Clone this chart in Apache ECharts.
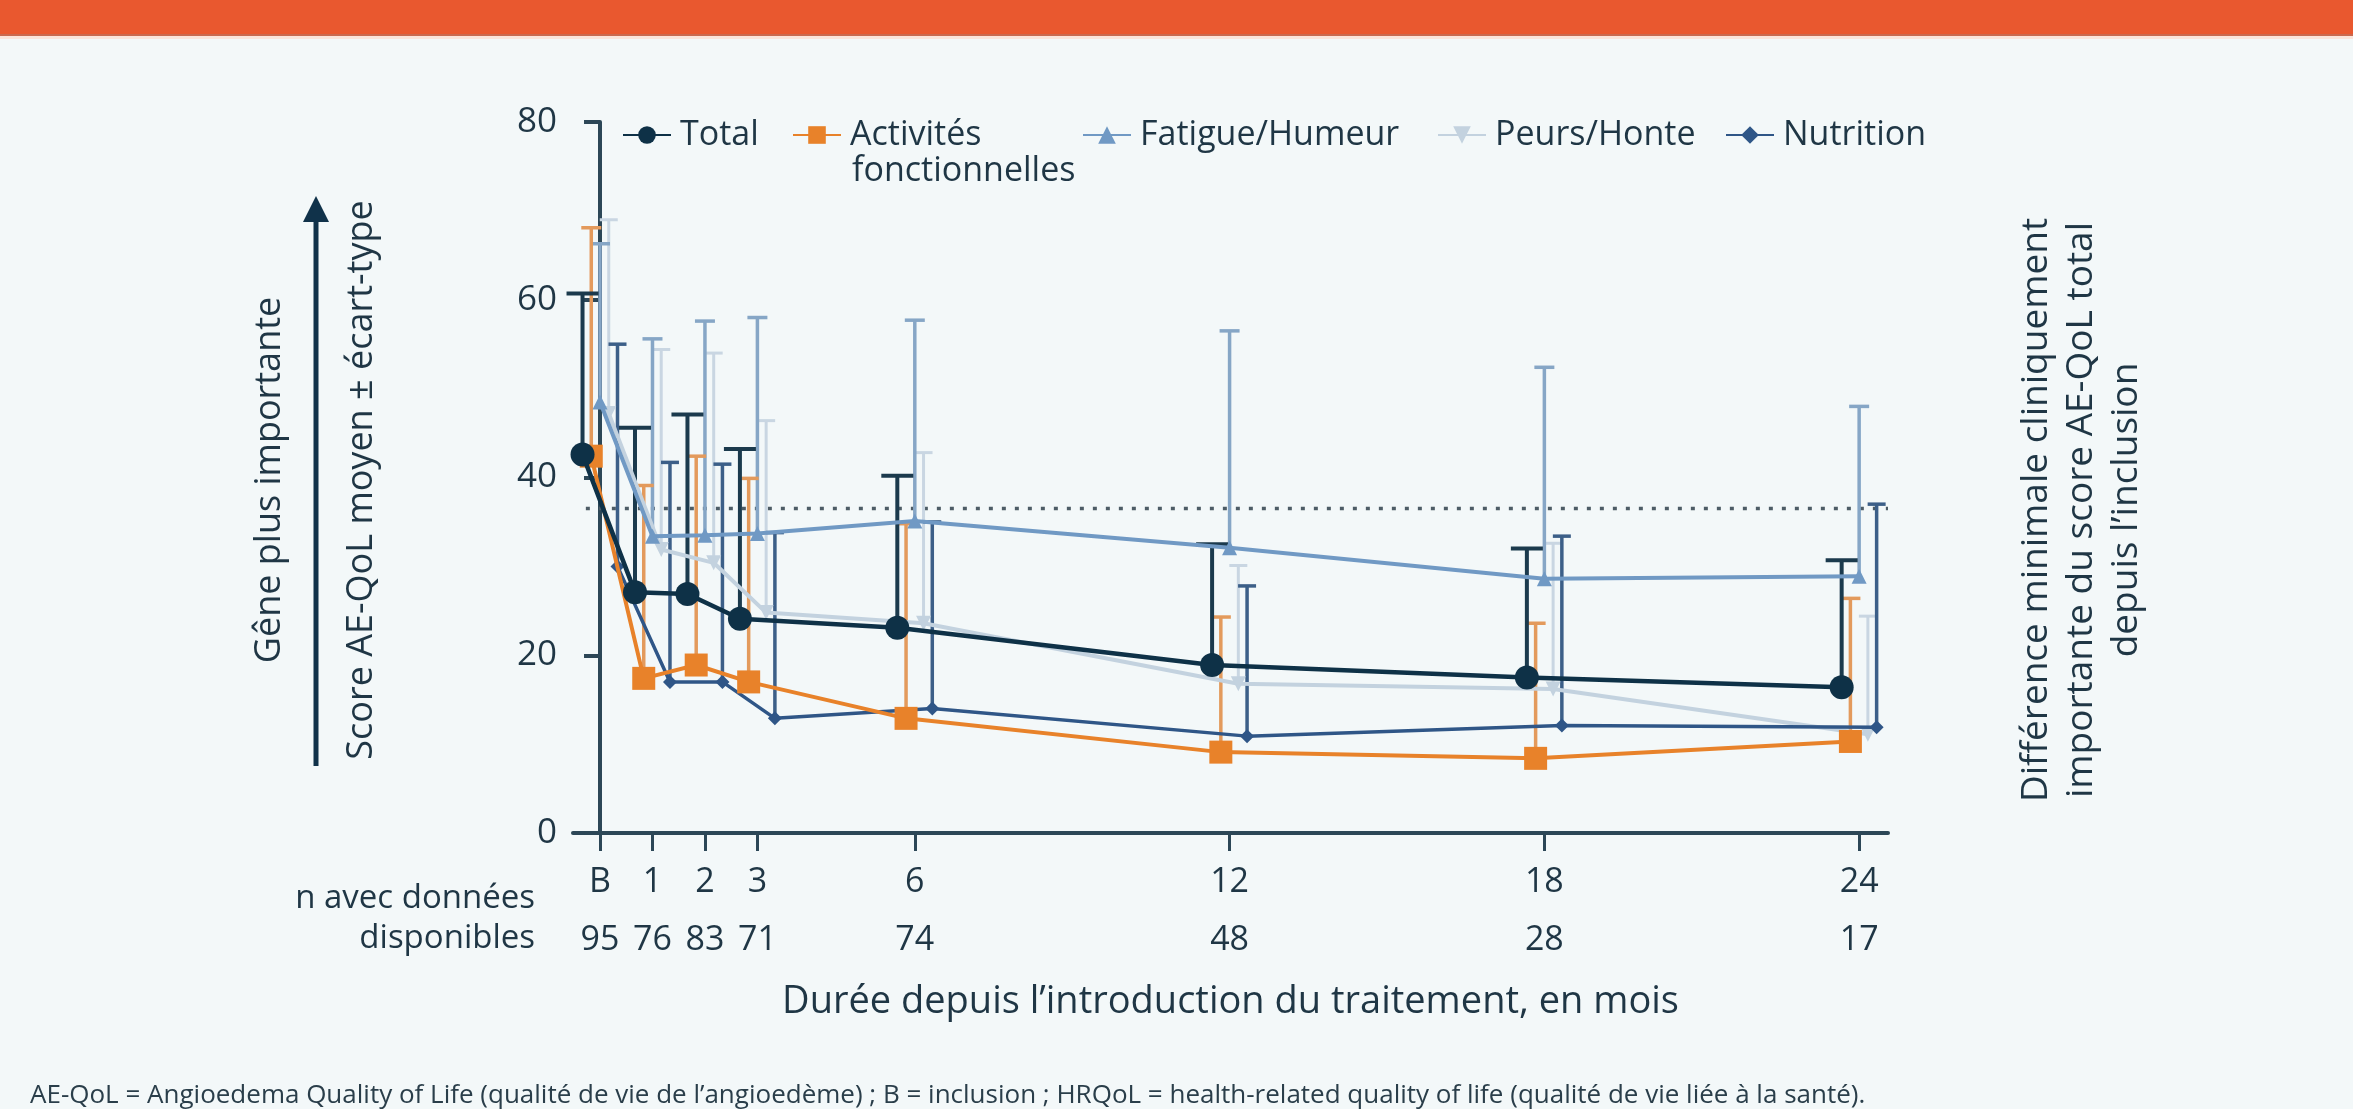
<!DOCTYPE html>
<html>
<head>
<meta charset="utf-8">
<script src="https://cdn.jsdelivr.net/npm/echarts@6/dist/echarts.min.js"></script>
<style>
  html, body { margin: 0; padding: 0; background: #f3f8f9; }
  #chart { width: 2353px; height: 1109px; }
</style>
</head>
<body>
<div id="chart"></div>
<script>
// Visits (months since treatment start; 0 = inclusion "B")
const months = [0, 1, 2, 3, 6, 12, 18, 24];
const monthLabels = ['B', '1', '2', '3', '6', '12', '18', '24'];
const nAvailable = [95, 76, 83, 71, 74, 48, 28, 17];

// Mean AE-QoL scores and mean + SD (top of each error bar)
const totalMean      = [42.6, 27.1, 26.9, 24.1, 23.1, 18.9, 17.5, 16.4];
const totalUpper     = [60.7, 45.6, 47.1, 43.2, 40.2, 32.5, 32.0, 30.7];
const activitesMean  = [42.4, 17.4, 18.9, 17.0, 12.9, 9.1, 8.4, 10.3];
const activitesUpper = [68.1, 39.1, 42.4, 39.9, 34.8, 24.3, 23.6, 26.4];
const fatigueMean    = [48.5, 33.4, 33.5, 33.7, 35.1, 32.1, 28.6, 28.9];
const fatigueUpper   = [66.3, 55.6, 57.6, 58.0, 57.7, 56.5, 52.4, 48.0];
const peursMean      = [47.2, 31.9, 30.4, 24.8, 23.6, 16.8, 16.2, 11.1];
const peursUpper     = [69.0, 54.4, 54.0, 46.4, 42.8, 30.1, 32.6, 24.4];
const nutritionMean  = [30.0, 17.0, 17.0, 12.9, 14.0, 10.9, 12.1, 11.9];
const nutritionUpper = [55.0, 41.7, 41.5, 33.8, 35.0, 27.8, 33.4, 37.0];

// Minimal clinically important difference of the total score from inclusion
const mcid = 36.5;
const yTicks = [0, 20, 40, 60, 80];

const FONT = '"Open Sans", "Noto Sans", sans-serif';
const INK = '#1f3645';
const AXIS = '#2c4757';

// Each domain is drawn slightly shifted along x so the error bars do not overlap
const seriesDefs = [
  { name: 'Peurs/Honte', mean: peursMean, upper: peursUpper, shift: 1 / 6,
    color: '#c3d2df', bar: '#c9d6e2', symbol: 'triangle', rotate: 180, size: 15, lw: 4, cap: 18, blw: 3 },
  { name: 'Fatigue/Humeur', mean: fatigueMean, upper: fatigueUpper, shift: 0,
    color: '#7099c4', bar: '#86a6c6', symbol: 'triangle', rotate: 0, size: 15, lw: 4, cap: 20, blw: 3.5 },
  { name: 'Nutrition', mean: nutritionMean, upper: nutritionUpper, shift: 1 / 3,
    color: '#2f5687', bar: '#3c5f88', symbol: 'diamond', rotate: 0, size: 14, lw: 3.5, cap: 18, blw: 3.5 },
  { name: 'Activités fonctionnelles', mean: activitesMean, upper: activitesUpper, shift: -1 / 6,
    color: '#e8822a', bar: '#e39a5c', symbol: 'rect', rotate: 0, size: 23, lw: 4, cap: 20, blw: 3.5 },
  { name: 'Total', mean: totalMean, upper: totalUpper, shift: -1 / 3,
    color: '#0e3147', bar: '#1b3a4d', symbol: 'circle', rotate: 0, size: 24, lw: 4.5, cap: 32, blw: 4 }
];

const series = [];
seriesDefs.forEach(function (d, k) {
  const xs = months.map(function (m) { return m + d.shift; });
  // upward error bars: mean -> mean + SD, with a cap
  series.push({
    type: 'custom',
    name: d.name + ' (ET)',
    z: 2 + k * 0.01,
    data: xs.map(function (x, i) { return [x, d.mean[i], d.upper[i]]; }),
    encode: { x: 0, y: [1, 2] },
    silent: true,
    renderItem: function (params, api) {
      const x = api.value(0), m = api.value(1), u = api.value(2);
      const p0 = api.coord([x, m]);
      const p1 = api.coord([x, u]);
      const st = { stroke: d.bar, lineWidth: d.blw };
      return {
        type: 'group',
        children: [
          { type: 'line', shape: { x1: p0[0], y1: p0[1], x2: p1[0], y2: p1[1] }, style: st },
          { type: 'line', shape: { x1: p1[0] - d.cap / 2, y1: p1[1], x2: p1[0] + d.cap / 2, y2: p1[1] }, style: st }
        ]
      };
    }
  });
  series.push({
    type: 'line',
    name: d.name,
    z: 3 + k * 0.01,
    data: xs.map(function (x, i) { return [x, d.mean[i]]; }),
    symbol: d.symbol,
    symbolRotate: d.rotate,
    symbolSize: d.size,
    showAllSymbol: true,
    lineStyle: { color: d.color, width: d.lw },
    itemStyle: { color: d.color, opacity: 1 },
    emphasis: { disabled: true },
    animation: false
  });
});

// dotted MCID threshold line
series.push({
  type: 'line',
  name: 'DMCI',
  z: 1,
  data: [[-0.27, mcid], [24.55, mcid]],
  symbol: 'none',
  lineStyle: { color: '#4d5c66', width: 3.5, type: [4, 9] },
  silent: true,
  animation: false
});

// legend placements (icon centre x)
const legendItems = [
  { name: 'Total', cx: 646, text: 'Total' },
  { name: 'Activités fonctionnelles', cx: 816, text: 'Activités' },
  { name: 'Fatigue/Humeur', cx: 1106, text: 'Fatigue/Humeur' },
  { name: 'Peurs/Honte', cx: 1461, text: 'Peurs/Honte' },
  { name: 'Nutrition', cx: 1749, text: 'Nutrition' }
];

const legends = legendItems.map(function (it) {
  return {
    data: [it.name],
    left: it.cx - 24,
    top: 129 - 11,
    padding: 0,
    itemWidth: 48,
    itemHeight: 22,
    itemGap: 0,
    selectedMode: false,
    formatter: function () { return it.text; },
    textStyle: { fontSize: 34, color: INK, fontFamily: FONT, padding: [0, 0, 0, 4] }
  };
});

const chart = echarts.init(document.getElementById('chart'), null, { renderer: 'canvas' });

chart.setOption({
  backgroundColor: '#f3f8f9',
  animation: false,
  legend: legends,
  grid: { left: 573, right: 465, top: 122, bottom: 276, containLabel: false },
  xAxis: {
    type: 'value',
    min: -0.515,
    max: 24.55,
    name: 'Durée depuis l\u2019introduction du traitement, en mois',
    nameLocation: 'middle',
    nameGap: 150,
    nameTextStyle: { fontSize: 38, color: INK, fontFamily: FONT },
    axisLine: { show: true, onZero: false, lineStyle: { color: AXIS, width: 4 } },
    axisTick: { show: true, customValues: months, length: 18, lineStyle: { color: AXIS, width: 3 } },
    axisLabel: {
      customValues: months,
      margin: 20,
      formatter: function (v) {
        const i = months.indexOf(Math.round(v));
        return '{t|' + monthLabels[i] + '}\n{n|' + nAvailable[i] + '}';
      },
      rich: {
        t: { fontSize: 34, color: INK, fontFamily: FONT, lineHeight: 58 },
        n: { fontSize: 34, color: INK, fontFamily: FONT, lineHeight: 58 }
      }
    },
    splitLine: { show: false }
  },
  yAxis: {
    type: 'value',
    min: 0,
    max: 80,
    interval: 20,
    axisLine: { show: true, lineStyle: { color: AXIS, width: 4 } },
    axisTick: { show: true, length: 16, lineStyle: { color: AXIS, width: 4 } },
    axisLabel: {
      fontSize: 35, color: INK, fontFamily: FONT, margin: 16,
      customValues: yTicks
    },
    splitLine: { show: false }
  },
  graphic: [
    // header band
    { type: 'rect', shape: { x: 0, y: 0, width: 2353, height: 34 }, style: { fill: '#e9582f' }, silent: true },
    { type: 'rect', shape: { x: 0, y: 34, width: 2353, height: 2 }, style: { fill: '#c9694f' }, silent: true },
    { type: 'rect', shape: { x: 0, y: 36, width: 2353, height: 3 }, style: { fill: '#fbe4da' }, silent: true },
    // second line of the "Activités fonctionnelles" legend entry
    { type: 'text', x: 852, y: 171,
      style: { text: 'fonctionnelles', font: '34px ' + FONT, fill: INK, textAlign: 'left', textVerticalAlign: 'middle' } },
    // left axis titles with arrow
    { type: 'text', x: 270, y: 480, rotation: Math.PI / 2,
      style: { text: 'Gêne plus importante', font: '36px ' + FONT, fill: INK, textAlign: 'center', textVerticalAlign: 'middle' } },
    { type: 'line', shape: { x1: 316, y1: 766, x2: 316, y2: 218 }, style: { stroke: '#10324a', lineWidth: 5 } },
    { type: 'polygon', shape: { points: [[316, 196], [303, 222], [329, 222]] }, style: { fill: '#10324a' } },
    { type: 'text', x: 362, y: 480, rotation: Math.PI / 2,
      style: { text: 'Score AE-QoL moyen ± écart-type', font: '36px ' + FONT, fill: INK, textAlign: 'center', textVerticalAlign: 'middle' } },
    // right-side note on the dotted line
    { type: 'text', x: 2081, y: 510, rotation: Math.PI / 2,
      style: { text: 'Différence minimale cliniquement\nimportante du score AE-QoL total\ndepuis l\u2019inclusion',
        font: '37px ' + FONT, fill: INK, textAlign: 'center', textVerticalAlign: 'middle', lineHeight: 45 } },
    // row captions under the x axis
    { type: 'text', x: 535, y: 899,
      style: { text: 'n avec données', font: '33px ' + FONT, fill: INK, textAlign: 'right', textVerticalAlign: 'middle' } },
    { type: 'text', x: 535, y: 939,
      style: { text: 'disponibles', font: '33px ' + FONT, fill: INK, textAlign: 'right', textVerticalAlign: 'middle' } },
    // footnote
    { type: 'text', x: 30, y: 1096,
      style: { text: 'AE-QoL = Angioedema Quality of Life (qualité de vie de l\u2019angioedème) ; B = inclusion ; HRQoL = health-related quality of life (qualité de vie liée à la santé).',
        font: '26px ' + FONT, fill: '#2a3e4a', textAlign: 'left', textVerticalAlign: 'middle' } }
  ],
  series: series
});
</script>
</body>
</html>
